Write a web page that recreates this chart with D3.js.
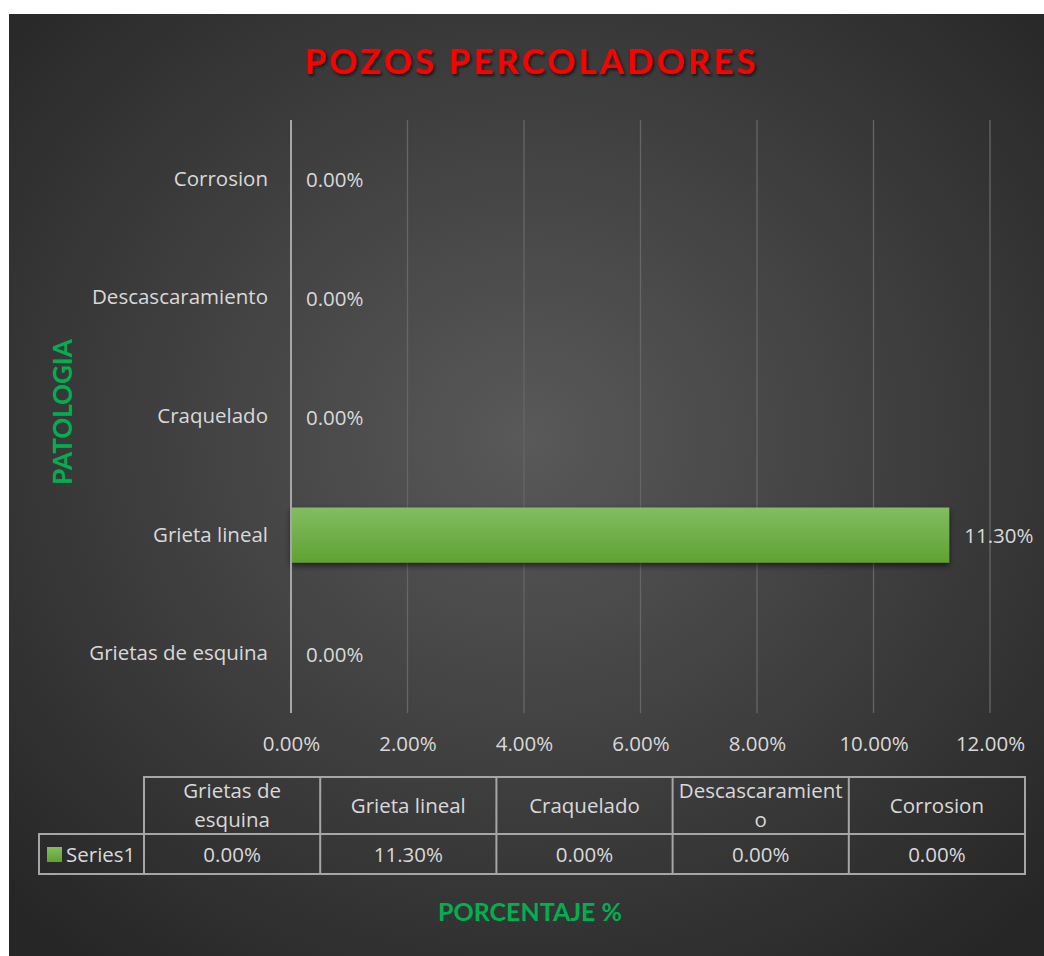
<!DOCTYPE html>
<html>
<head>
<meta charset="utf-8">
<script src="https://cdn.jsdelivr.net/npm/d3@7"></script>
<style>
  body { margin: 0; background: #fff; }
  svg { display: block; }
  text { font-family: "Open Sans", Lato, sans-serif; }
</style>
</head>
<body>
<svg id="chart"></svg>
<script>
// data
const categories = ["Grietas de esquina", "Grieta lineal", "Craquelado", "Descascaramiento", "Corrosion"];
const values = [0, 0.113, 0, 0, 0];
const xTicks = [0, 0.02, 0.04, 0.06, 0.08, 0.1, 0.12];
const seriesName = "Series1";
const headerLines = [["Grietas de", "esquina"], ["Grieta lineal"], ["Craquelado"], ["Descascaramient", "o"], ["Corrosion"]];

const W = 1044, H = 956;
const fmt = d3.format(".2%");
const fs = "20.5px";

const svg = d3.select("#chart").attr("width", W).attr("height", H);

// background gradient
const defs = svg.append("defs");
const bg = defs.append("radialGradient").attr("id", "bg")
  .attr("cx", "50%").attr("cy", "45%").attr("r", "70%");
bg.append("stop").attr("offset", "0%").attr("stop-color", "#595959");
bg.append("stop").attr("offset", "100%").attr("stop-color", "#262626");

const barGrad = defs.append("linearGradient").attr("id", "barGrad")
  .attr("x1", 0).attr("y1", 0).attr("x2", 0).attr("y2", 1);
barGrad.append("stop").attr("offset", "0%").attr("stop-color", "#82bd62");
barGrad.append("stop").attr("offset", "100%").attr("stop-color", "#5fa232");

const shadow = defs.append("filter").attr("id", "shadow")
  .attr("x", "-10%").attr("y", "-30%").attr("width", "120%").attr("height", "170%");
shadow.append("feDropShadow").attr("dx", 0).attr("dy", 3).attr("stdDeviation", 3)
  .attr("flood-color", "#000").attr("flood-opacity", 0.6);

const tshadow = defs.append("filter").attr("id", "tshadow");
tshadow.append("feDropShadow").attr("dx", 1.5).attr("dy", 2).attr("stdDeviation", 1.5)
  .attr("flood-color", "#000").attr("flood-opacity", 0.7);

svg.append("rect").attr("x", 9).attr("y", 14).attr("width", W - 9).attr("height", H - 14)
  .attr("fill", "url(#bg)");

// scales
const x = d3.scaleLinear().domain([0, 0.12]).range([291, 990]);
const y = d3.scaleBand().domain(categories.slice().reverse()).range([120, 713]).padding(0);
const barH = y.step() / 2.15;

// gridlines
svg.append("g").selectAll("line").data(xTicks.slice(1)).join("line")
  .attr("x1", d => x(d)).attr("x2", d => x(d))
  .attr("y1", 120).attr("y2", 713)
  .attr("stroke", "#666").attr("stroke-width", 1.3);

// bars
svg.append("g").selectAll("rect").data(categories).join("rect")
  .attr("x", x(0))
  .attr("y", d => y(d) + (y.step() - barH) / 2)
  .attr("width", (d, i) => x(values[i]) - x(0))
  .attr("height", barH)
  .attr("fill", "url(#barGrad)")
  .attr("filter", "url(#shadow)");

// y axis line
svg.append("line").attr("x1", x(0)).attr("x2", x(0)).attr("y1", 120).attr("y2", 713)
  .attr("stroke", "#a6a6a6").attr("stroke-width", 2);

// y axis labels
const yAxis = svg.append("g").attr("transform", `translate(${x(0) - 23},0)`)
  .call(d3.axisLeft(y).tickSize(0).tickPadding(0));
yAxis.select(".domain").remove();
yAxis.selectAll("text").attr("fill", "#d9d9d9").style("font-size", fs);

// value labels
svg.append("g").selectAll("text").data(categories).join("text")
  .attr("x", (d, i) => x(values[i]) + 15)
  .attr("y", d => y(d) + y.step() / 2 + 1)
  .attr("dy", "0.35em")
  .attr("fill", "#d9d9d9").style("font-size", fs)
  .text((d, i) => fmt(values[i]));

// x axis labels
const xAxis = svg.append("g").attr("transform", "translate(0,713)")
  .call(d3.axisBottom(x).tickValues(xTicks).tickFormat(fmt).tickSize(0).tickPadding(23));
xAxis.select(".domain").remove();
xAxis.selectAll("text").attr("fill", "#d9d9d9").style("font-size", fs);

// data table
const col = d3.scaleBand().domain(categories).range([144, 1025]);
const tTop = 777, tMid = 834, tBot = 874, tLeft = 39;
const table = svg.append("g").attr("fill", "none").attr("stroke", "#a6a6a6").attr("stroke-width", 2);
table.append("path").attr("d",
  `M${col.range()[0]},${tMid}V${tTop}H${col.range()[1]}V${tBot}H${tLeft}V${tMid}H${col.range()[1]}`);
table.selectAll("line").data(categories).join("line")
  .attr("x1", d => col(d)).attr("x2", d => col(d)).attr("y1", tTop).attr("y2", tBot);

const head = svg.append("g").selectAll("text").data(categories).join("text")
  .attr("x", d => col(d) + col.bandwidth() / 2)
  .attr("text-anchor", "middle")
  .attr("fill", "#d9d9d9").style("font-size", fs);
head.each(function (d, i) {
  const lines = headerLines[i];
  const cy = (tTop + tMid) / 2;
  lines.forEach((l, j) => {
    d3.select(this).append("tspan")
      .attr("x", col(d) + col.bandwidth() / 2)
      .attr("y", cy + (j - (lines.length - 1) / 2) * 29)
      .attr("dy", "0.35em")
      .text(l);
  });
});

svg.append("g").selectAll("text").data(categories).join("text")
  .attr("x", d => col(d) + col.bandwidth() / 2)
  .attr("y", (tMid + tBot) / 2 + 1)
  .attr("dy", "0.35em")
  .attr("text-anchor", "middle")
  .attr("fill", "#d9d9d9").style("font-size", fs)
  .text((d, i) => fmt(values[i]));

// legend key
svg.append("rect").attr("x", 47).attr("y", 847).attr("width", 15).attr("height", 15)
  .attr("fill", "url(#barGrad)");
svg.append("text").attr("x", 66).attr("y", (tMid + tBot) / 2 + 1).attr("dy", "0.35em")
  .attr("fill", "#d9d9d9").style("font-size", fs).text(seriesName);

// titles
svg.append("text").attr("x", 532).attr("y", 62).attr("dy", "0.35em")
  .attr("text-anchor", "middle").attr("fill", "#ff0000")
  .attr("filter", "url(#tshadow)")
  .style("font-family", "Lato, sans-serif")
  .style("font-size", "35px").style("font-weight", "bold").style("letter-spacing", "3px")
  .text("POZOS PERCOLADORES");

svg.append("text").attr("transform", "translate(63,412) rotate(-90)").attr("dy", "0.35em")
  .attr("text-anchor", "middle").attr("fill", "#00b050")
  .style("font-family", "Lato, sans-serif")
  .style("font-size", "26px").style("font-weight", "bold")
  .text("PATOLOGIA");

svg.append("text").attr("x", 530).attr("y", 912).attr("dy", "0.35em")
  .attr("text-anchor", "middle").attr("fill", "#00b050")
  .style("font-family", "Lato, sans-serif")
  .style("font-size", "25px").style("font-weight", "bold")
  .text("PORCENTAJE %");
</script>
</body>
</html>
